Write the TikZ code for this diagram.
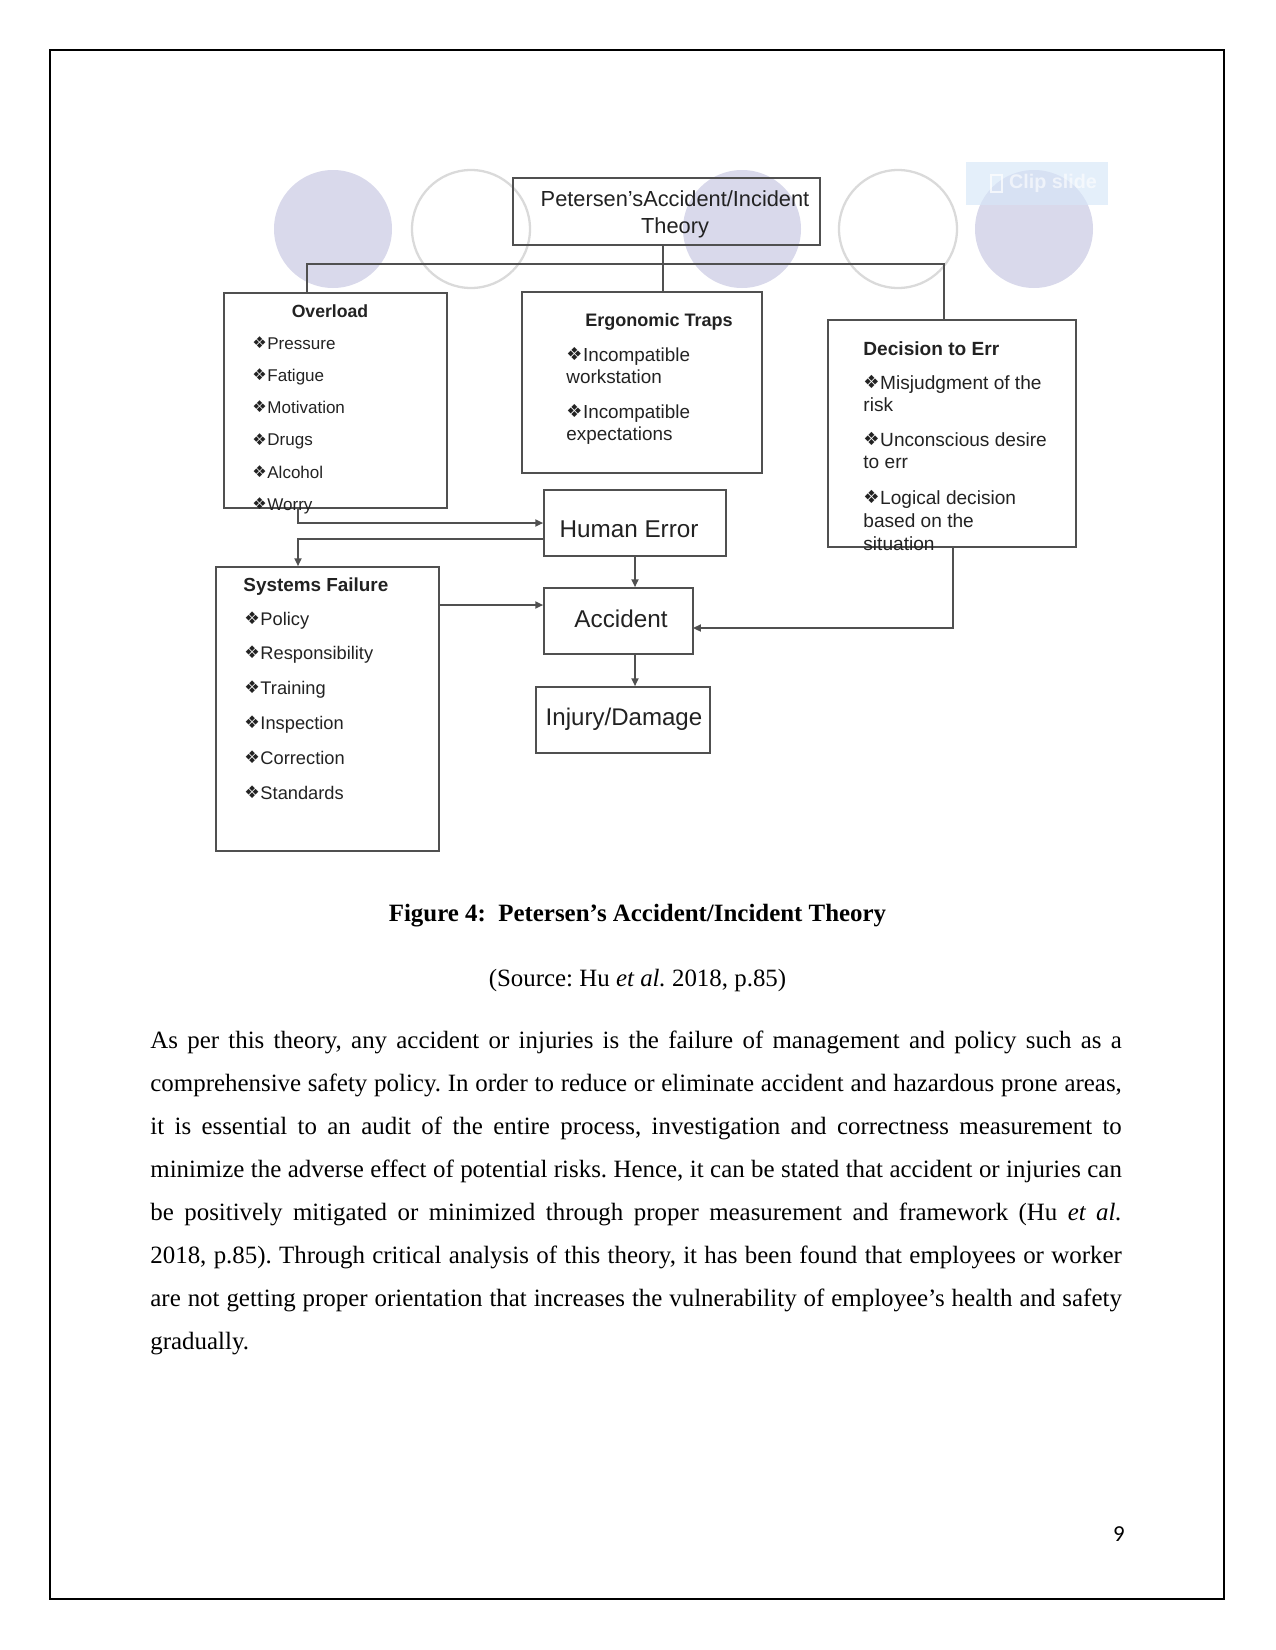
\documentclass[tikz,border=0pt]{standalone}
\usepackage{fontspec}
\usepackage{graphicx}
\setmainfont{Liberation Serif}
\newfontfamily\arialfont{Liberation Sans}
\newfontfamily\dejavufont{DejaVu Sans}
\newfontfamily\calibrifont{Carlito}
\usetikzlibrary{arrows.meta,positioning,fit}
\definecolor{ptline}{HTML}{505050}
\definecolor{ptink}{HTML}{222222}
\definecolor{ptlav}{HTML}{D9D9EB}
\definecolor{ptring}{HTML}{DADADA}
\definecolor{ptclip}{HTML}{D6E6F8}
\newcommand{\dia}{\makebox[0.88em][l]{\raisebox{0.05em}{\dejavufont\scalebox{0.95}{❖}}}}
\frenchspacing
\tikzset{
  frameBox/.style={draw=ptline, line width=0.8pt, inner sep=0pt},
  boxLabel/.style={font=\arialfont\fontsize{#1}{#1}\selectfont, text=ptink, inner sep=0pt},
  headText/.style={font=\arialfont\bfseries\fontsize{#1}{#1}\selectfont, text=ptink, inner sep=0pt},
  itemText/.style={font=\arialfont\fontsize{#1}{#1}\selectfont, text=ptink, inner sep=0pt, anchor=base west},
  treeLine/.style={draw=ptline, line width=0.8pt},
  flowArrow/.style={-{Triangle[length=3.8pt,width=3.4pt]}, draw=ptline, line width=0.8pt},
  bodyText/.style={text width=468pt, align=justify, inner sep=0pt, font=\fontsize{12}{20.7}\selectfont}
}
\begin{document}
\begin{tikzpicture}[x=0.169333mm, y=-0.169333mm]
  \useasboundingbox (0,0) rectangle (1275,1650);
  \draw[line width=0.7pt] (50,50) rectangle (1224,1599);

  % slide background
  \foreach \cx in {333,742,1034} \fill[ptlav] (\cx,229) circle (59);
  \foreach \cx in {471,898} \draw[ptring, line width=1.1pt] (\cx,229) circle (59);
  \node[fill=ptclip, fill opacity=.65, inner sep=0pt, fit={(966,162) (1108,205)}] (clip) {};
  \draw[white, opacity=.7, line width=1pt] (991,175) rectangle (1002,192);
  \node[font=\arialfont\bfseries\fontsize{9.5}{10}\selectfont, text=white, text opacity=.6, inner sep=0pt] (cliptext) at (1053,183) {Clip slide};

  % boxes
  \node[frameBox, fit={(513,178) (820,245)}] (theory) {};
  \node[frameBox, fit={(224,293) (447,508)}] (overload) {};
  \node[frameBox, fit={(522,292) (762,473)}] (ergo) {};
  \node[frameBox, fit={(828,320) (1076,547)}] (decision) {};
  \node[frameBox, fit={(544,490) (726,556)}] (human) {};
  \node[frameBox, fit={(216,567) (439,851)}] (systems) {};
  \node[frameBox, fit={(544,588) (693,654)}] (accident) {};
  \node[frameBox, fit={(536,687) (710,753)}] (injury) {};

  \node[boxLabel=10.5, anchor=base] (theoryA) at (675,206) {Petersen’sAccident/Incident};
  \node[boxLabel=10.5, anchor=base] (theoryB) at (675,233) {Theory};
  \node[boxLabel=11.7, anchor=base] (humanT) at (629,537) {Human Error};
  \node[boxLabel=11.7, anchor=base] (accidentT) at (621,627) {Accident};
  \node[boxLabel=11.6, anchor=base] (injuryT) at (624,725) {Injury/Damage};

  \node[headText=8.5, anchor=base] (overloadH) at (330,317) {Overload};
  \node[headText=8.7, anchor=base] (ergoH) at (659,326) {Ergonomic Traps};
  \node[headText=9.2, anchor=base west] (decisionH) at (863,355) {Decision to Err};
  \node[headText=9.1, anchor=base west] (systemsH) at (243,591) {Systems Failure};

  \foreach \t [count=\i from 0] in {Pressure,Fatigue,Motivation,Drugs,Alcohol,Worry}
    \node[itemText=8.2] (ol\i) at (252,349+32.3*\i) {\dia\t};
  \foreach \t [count=\i from 0] in {Policy,Responsibility,Training,Inspection,Correction,Standards}
    \node[itemText=8.8] (sf\i) at (244,625+34.8*\i) {\dia\t};
  \foreach \y/\t [count=\i] in {361/\dia Incompatible, 383/workstation, 418/\dia Incompatible, 440/expectations}
    \node[itemText=9.1] (et\i) at (566,\y) {\t};
  \foreach \y/\t [count=\i] in {389/\dia Misjudgment of the, 411/risk, 446/\dia Unconscious desire, 468/to err, 504/\dia Logical decision, 527/based on the, 550/situation}
    \node[itemText=9.2] (de\i) at (863,\y) {\t};

  % connectors
  \coordinate (bus) at (663,264);
  \coordinate (olDrop) at (307,293);
  \coordinate (deDrop) at (944,320);
  \coordinate (olOut) at (298,508);
  \coordinate (heOut) at (544,539);
  \coordinate (sfOut) at (439,605);
  \coordinate (deOut) at (953,547);
  \coordinate (accIn) at (693,628);
  \draw[treeLine] (theory.south -| bus) -- (ergo.north -| bus);
  \draw[treeLine] (olDrop) |- (bus) -| (deDrop);
  \draw[flowArrow] (olOut) |- (human.west);
  \draw[flowArrow] (heOut) -| (systems.north -| olOut);
  \draw[flowArrow] (sfOut) -- (sfOut -| accident.west);
  \draw[flowArrow] (human.south) -- (human.south |- accident.north);
  \draw[flowArrow] (accident.south -| human.south) -- (human.south |- injury.north);
  \draw[flowArrow] (deOut) |- (accIn);

  % caption and text
  \node[anchor=base, font=\bfseries\fontsize{12}{14}\selectfont, inner sep=0pt] (caption) at (637.5,921) {Figure 4:\ \ Petersen’s Accident/Incident Theory};
  \node[anchor=base, font=\fontsize{12}{14}\selectfont, inner sep=0pt] (source) at (637.5,986) {(Source: Hu \textit{et al.} 2018, p.85)};
  \node[bodyText, anchor=north west] (body) at (150,1031) {As per this theory, any accident or injuries is the failure of management and policy such as a\linebreak
  comprehensive safety policy. In order to reduce or eliminate accident and hazardous prone areas,\linebreak
  it is essential to an audit of the entire process, investigation and correctness measurement to\linebreak
  minimize the adverse effect of potential risks. Hence, it can be stated that accident or injuries can\linebreak
  be positively mitigated or minimized through proper measurement and framework (Hu \textit{et al.}\linebreak
  2018, p.85). Through critical analysis of this theory, it has been found that employees or worker\linebreak
  are not getting proper orientation that increases the vulnerability of employee’s health and safety\linebreak
  gradually.};
  \node[anchor=base east, font=\calibrifont\fontsize{11}{13}\selectfont, inner sep=0pt] (pageno) at (1125,1541) {9};
\end{tikzpicture}
\end{document}
